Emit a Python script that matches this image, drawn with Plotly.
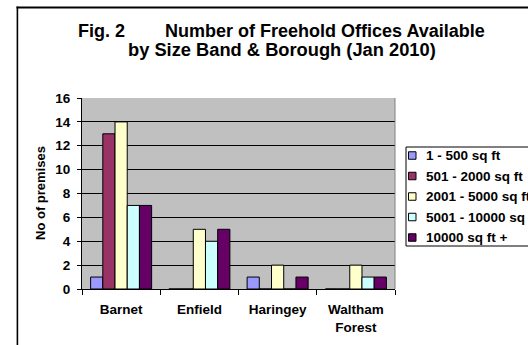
import plotly.graph_objects as go

categories = ["Barnet", "Enfield", "Haringey", "Waltham<br>Forest"]
series_names = ["1 - 500 sq ft", "501 - 2000 sq ft", "2001 - 5000 sq ft",
                "5001 - 10000 sq ft", "10000 sq ft +"]
values_1_500 = [1, 0, 1, 0]
values_501_2000 = [13, 0, 0, 0]
values_2001_5000 = [14, 5, 2, 2]
values_5001_10000 = [7, 4, 0, 1]
values_10000_plus = [7, 5, 1, 1]
series_values = [values_1_500, values_501_2000, values_2001_5000,
                 values_5001_10000, values_10000_plus]
colors = ["#9999FF", "#993366", "#FFFFCC", "#CCFFFF", "#660066"]
y_ticks = [0, 2, 4, 6, 8, 10, 12, 14, 16]

W, H = 528, 345
L, R, T, B = 82, 133, 98, 56
FONT = "Liberation Sans, Arial, sans-serif"


def px(x):
    # x in page pixels -> paper coordinate
    return (x - L) / (W - L - R)


def py(y):
    # y in page pixels -> paper coordinate
    return (H - B - y) / (H - T - B)


fig = go.Figure()
for name, vals, col in zip(series_names, series_values, colors):
    fig.add_trace(go.Bar(
        x=categories, y=vals, name=name,
        marker=dict(color=col, line=dict(color="black", width=1)),
        showlegend=False,
    ))

shapes = []
annotations = []

# outer chart frame: top and left edges drawn as thin filled strips
shapes.append(dict(type="rect", xref="paper", yref="paper",
                   x0=px(16.5), x1=px(560), y0=py(8.4), y1=py(6.6),
                   line=dict(width=0), fillcolor="black"))
shapes.append(dict(type="rect", xref="paper", yref="paper",
                   x0=px(16.6), x1=px(18.2), y0=py(400), y1=py(6.6),
                   line=dict(width=0), fillcolor="black"))
# right border of plot area (grey)
shapes.append(dict(type="line", xref="paper", yref="paper",
                   x0=1, x1=1, y0=0, y1=1,
                   line=dict(color="#808080", width=1)))

# manual legend
leg_top, leg_bot = 147, 246
shapes.append(dict(type="rect", xref="paper", yref="paper",
                   x0=px(406), x1=px(600), y0=py(leg_bot), y1=py(leg_top),
                   line=dict(color="black", width=1), fillcolor="white"))
row_y = [155.5, 176, 196.5, 217, 237.5]
for name, col, ry in zip(series_names, colors, row_y):
    shapes.append(dict(type="rect", xref="paper", yref="paper",
                       x0=px(408.5), x1=px(416), y0=py(ry + 3.75), y1=py(ry - 3.75),
                       line=dict(color="black", width=1), fillcolor=col))
    annotations.append(dict(xref="paper", yref="paper", x=px(424), y=py(ry),
                            xanchor="left", yanchor="middle", showarrow=False,
                            text=name,
                            font=dict(family=FONT, size=13.5, color="black", weight="bold")))

# title
annotations.append(dict(xref="paper", yref="paper", x=px(281), y=py(31),
                        xanchor="center", yanchor="middle", showarrow=False,
                        text="Fig. 2" + "\u00a0" * 8 + "Number of Freehold Offices Available",
                        font=dict(family=FONT, size=18, color="black", weight="bold")))
annotations.append(dict(xref="paper", yref="paper", x=px(282), y=py(50),
                        xanchor="center", yanchor="middle", showarrow=False,
                        text="by Size Band & Borough (Jan 2010)",
                        font=dict(family=FONT, size=18.3, color="black", weight="bold")))
# y axis title
annotations.append(dict(xref="paper", yref="paper", x=px(40), y=py(193),
                        xanchor="center", yanchor="middle", showarrow=False,
                        textangle=-90, text="No of premises",
                        font=dict(family=FONT, size=13, color="black", weight="bold")))

fig.update_layout(
    width=W, height=H, autosize=False,
    margin=dict(l=L, r=R, t=T, b=B, pad=0, autoexpand=False),
    paper_bgcolor="white", plot_bgcolor="#C0C0C0",
    barmode="group", bargap=0.22, bargroupgap=0,
    shapes=shapes, annotations=annotations,
    showlegend=False,
    font=dict(family=FONT, color="black"),
)
fig.update_xaxes(
    showline=True, linecolor="black", linewidth=1, automargin=False,
    ticks="outside", tickson="boundaries", ticklen=5, tickcolor="black",
    ticklabelstandoff=8,
    tickfont=dict(family=FONT, size=13.5, color="black", weight="bold"),
    showgrid=False, fixedrange=True,
)
fig.update_yaxes(
    range=[0, 16], tickvals=y_ticks, automargin=False,
    showline=True, linecolor="black", linewidth=1,
    ticks="outside", ticklen=4, tickcolor="black",
    ticklabelstandoff=4,
    tickfont=dict(family=FONT, size=13.5, color="black", weight="bold"),
    showgrid=True, gridcolor="black", gridwidth=1, zeroline=False,
    fixedrange=True,
)

fig.write_html(
    "out.html",
    config={"displayModeBar": False},
    post_script="document.body.style.margin='0';document.body.style.overflow='hidden';",
)
